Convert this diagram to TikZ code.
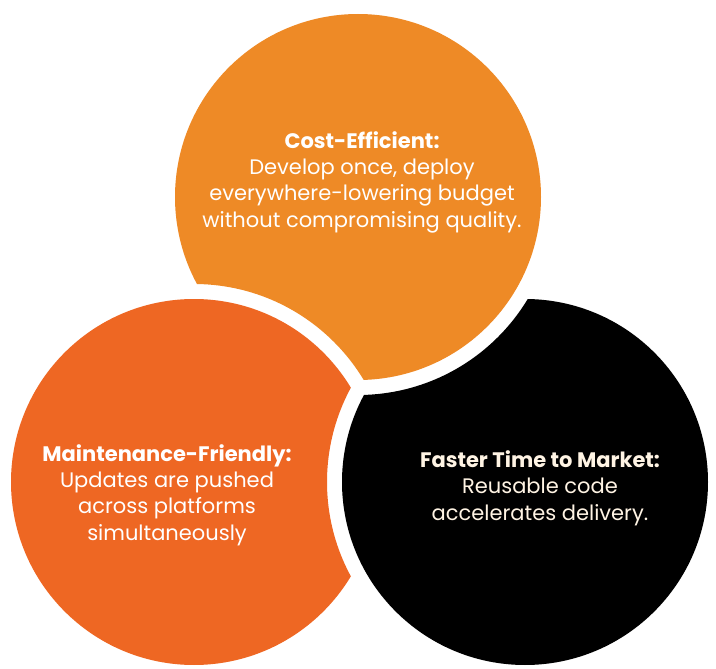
\documentclass[tikz,border=0pt]{standalone}
\usepackage{fontspec}
\setmainfont{Poppins}
\newfontfamily\popbold{Poppins Bold}
\definecolor{topor}{HTML}{EE8A26}
\definecolor{leftor}{HTML}{EE6723}
\definecolor{cream}{HTML}{FFF4E4}
\begin{document}
\begin{tikzpicture}[x=1pt,y=-1pt,
  label text/.style={align=center,font=\fontsize{21}{26.3}\selectfont,inner sep=0pt},
]
\useasboundingbox (0,0) rectangle (716,669);
\def\R{183}
\def\G{198}
\coordinate (ct) at (358,197);
\coordinate (cl) at (194,482);
\coordinate (cr) at (525,482);
% top circle, cut by left circle
\begin{scope}[even odd rule]
  \clip (-10,-10) rectangle (730,680) (cl) circle[radius=\G];
  \fill[topor] (ct) circle[radius=\R];
\end{scope}
% left circle, cut by right circle
\begin{scope}[even odd rule]
  \clip (-10,-10) rectangle (730,680) (cr) circle[radius=\G];
  \fill[leftor] (cl) circle[radius=\R];
\end{scope}
% right circle, cut by top circle
\begin{scope}[even odd rule]
  \clip (-10,-10) rectangle (730,680) (ct) circle[radius=\G];
  \fill[black] (cr) circle[radius=\R];
\end{scope}
\node[label text,text=white] (ttop) at (362,182)
  {{\popbold Cost-Efficient:}\\Develop once, deploy\\everywhere-lowering budget\\without compromising quality.};
\node[label text,text=white] (tleft) at (167,495)
  {{\popbold Maintenance-Friendly:}\\Updates are pushed\\across platforms\\simultaneously};
\node[label text,text=cream] (tright) at (540,488)
  {{\popbold Faster Time to Market:}\\Reusable code\\accelerates delivery.};
\end{tikzpicture}
\end{document}
